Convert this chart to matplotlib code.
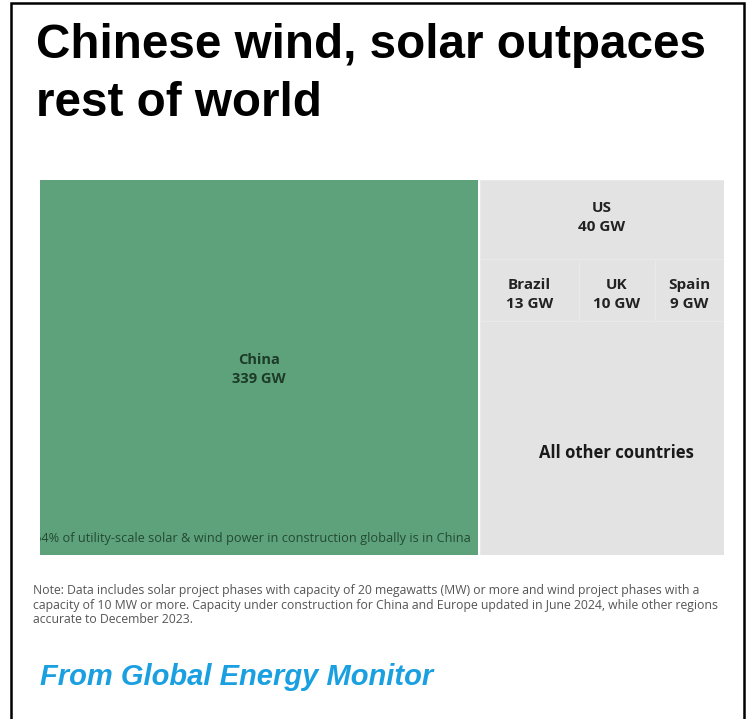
import matplotlib.pyplot as plt
from matplotlib.patches import Rectangle

W, H = 747, 719

# treemap data (GW under construction)
china_label = "China"
china_value = 339
row1_names = ["US"]
row1_values = [40]
row2_names = ["Brazil", "UK", "Spain"]
row2_values = [13, 10, 9]
other_name = "All other countries"
other_value = 119

title_lines = ["Chinese wind, solar outpaces", "rest of world"]
china_note = "64% of utility-scale solar & wind power in construction globally is in China"
note = ("Note: Data includes solar project phases with capacity of 20 megawatts (MW) or more and wind project phases with a\n"
        "capacity of 10 MW or more. Capacity under construction for China and Europe updated in June 2024, while other regions\n"
        "accurate to December 2023.")
source = "From Global Energy Monitor"

green = "#5da27a"
grey = "#e3e3e3"

fig = plt.figure(figsize=(W / 100, H / 100), dpi=100)
fig.patch.set_facecolor("white")

def fx(x):
    return x / W

def fy(y):
    return 1 - y / H

# outer frame
fig.add_artist(Rectangle((fx(11), fy(730)), fx(744) - fx(11), fy(3) - fy(730),
                         transform=fig.transFigure, fill=False, edgecolor="black", linewidth=1.8))

for line, base in zip(title_lines, [58, 116]):
    fig.text(fx(36), fy(base), line, fontsize=34.3, fontweight="bold", family="Liberation Sans",
             va="baseline", ha="left")

# treemap axes
ax = fig.add_axes([fx(40), fy(555), fx(724) - fx(40), fy(180) - fy(555)])
ax.set_xlim(0, 1)
ax.set_ylim(0, 1)
ax.axis("off")

total = china_value + sum(row1_values) + sum(row2_values) + other_value
rest = total - china_value
cw = china_value / total

china_rect = Rectangle((0, 0), cw, 1, facecolor=green, edgecolor="none")
ax.add_patch(china_rect)
gap = 0.003
ax.add_patch(Rectangle((cw + gap, 0), 1 - cw - gap, 1, facecolor=grey, edgecolor="none"))

txt_kw = dict(family="Open Sans", fontweight="bold", ha="center", va="center", linespacing=1.5)
ax.text(cw / 2, 0.495, f"{china_label}\n{china_value} GW", fontsize=10.5, color="#1d3b28", **txt_kw)
t = ax.text(-0.009, 0.045, china_note, fontsize=9.2, color="#244a33", family="Open Sans",
            ha="left", va="center", clip_on=True)
t.set_clip_path(china_rect)

# right side rows
x0 = cw + gap
rw = 1 - x0
top = 1.0
offsets = [0.005, -0.012]
for (names, values), off in zip([(row1_names, row1_values), (row2_names, row2_values)], offsets):
    h = sum(values) / rest
    x = x0
    for n, v in zip(names, values):
        w = rw * v / sum(values)
        ax.add_patch(Rectangle((x, top - h), w, h, facecolor="none", edgecolor="#eaeaea", linewidth=0.7))
        ax.text(x + w / 2, top - h / 2 + off, f"{n}\n{v} GW", fontsize=11, color="#222222", **txt_kw)
        x += w
    top -= h
ax.add_patch(Rectangle((x0, 0), rw, top, facecolor="none", edgecolor="#eaeaea", linewidth=0.7))
ax.text(x0 + rw / 2 + 0.022, 0.272, other_name, fontsize=12, color="#1a1a1a",
        family="Open Sans", fontweight="bold", ha="center", va="center")

fig.text(fx(33), fy(584), note, fontsize=8.85, color="#555555", family="Open Sans",
         ha="left", va="top", linespacing=1.15)

fig.text(fx(40), fy(685), source, fontsize=21, color="#1aa0e0", family="Liberation Sans",
         fontweight="bold", style="italic", ha="left", va="baseline")

fig.savefig("out.png", dpi=100)
